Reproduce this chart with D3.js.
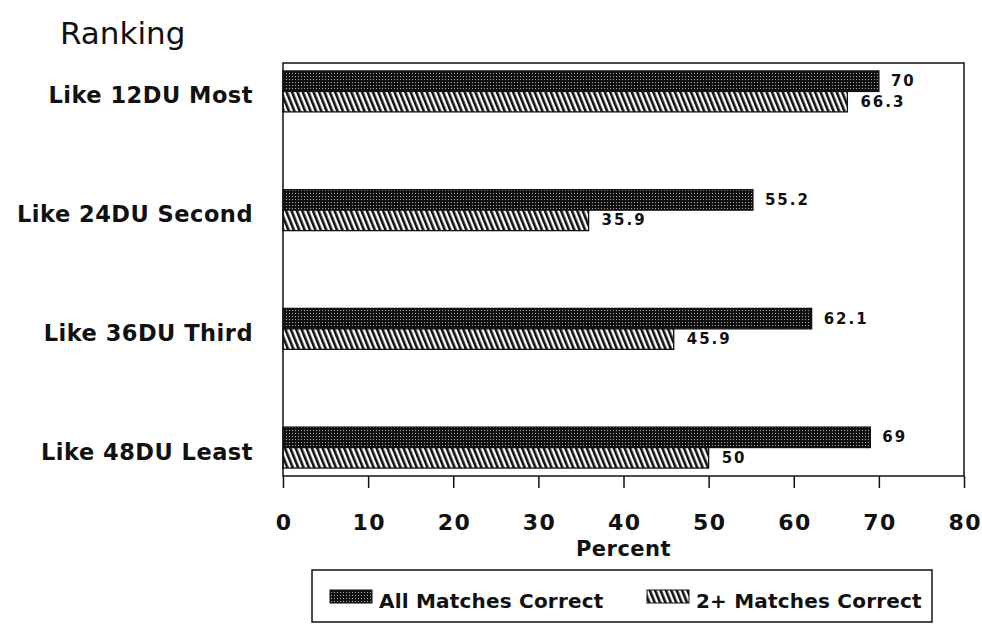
<!DOCTYPE html>
<html>
<head>
<meta charset="utf-8">
<script src="https://cdn.jsdelivr.net/npm/d3@7"></script>
<style>
  html, body { margin: 0; padding: 0; background: #fff; }
  svg { display: block; }
  text { fill: #111; }
</style>
</head>
<body>
<svg id="chart" width="982" height="627"></svg>
<script>
// ---- data ----
const categories = ["Like 12DU Most", "Like 24DU Second", "Like 36DU Third", "Like 48DU Least"];
const seriesNames = ["All Matches Correct", "2+ Matches Correct"];
const allMatches = [70, 55.2, 62.1, 69];
const twoPlusMatches = [66.3, 35.9, 45.9, 50];
const valueLabels = [["70", "55.2", "62.1", "69"], ["66.3", "35.9", "45.9", "50"]];
const xTicks = [0, 10, 20, 30, 40, 50, 60, 70, 80];
const titleText = "Ranking";
const xAxisTitle = "Percent";

const seriesValues = [allMatches, twoPlusMatches];

// ---- layout ----
const svg = d3.select("#chart");
const L = 283, R = 964, T = 63, B = 476;
const FONT = "'DejaVu Sans', 'Liberation Sans', sans-serif";

const x = d3.scaleLinear().domain([0, 80]).range([L, R]);
const y = d3.scaleBand().domain(categories).range([T, B]).paddingInner(0.655).paddingOuter(0.067);
const ySub = d3.scaleBand().domain(seriesNames).range([0, y.bandwidth()]);

// ---- patterns ----
const defs = svg.append("defs");
const dots = defs.append("pattern").attr("id", "dots").attr("patternUnits", "userSpaceOnUse")
  .attr("width", 3).attr("height", 3);
dots.append("rect").attr("width", 3).attr("height", 3).attr("fill", "#111");
dots.append("rect").attr("x", 1).attr("y", 1).attr("width", 1).attr("height", 1).attr("fill", "#aaa");

const hatch = defs.append("pattern").attr("id", "hatch").attr("patternUnits", "userSpaceOnUse")
  .attr("width", 5).attr("height", 10).attr("patternTransform", "rotate(-22)");
hatch.append("rect").attr("width", 5).attr("height", 10).attr("fill", "#fff");
hatch.append("rect").attr("x", 0).attr("y", 0).attr("width", 2.6).attr("height", 10).attr("fill", "#111");

const fills = ["url(#dots)", "url(#hatch)"];

// ---- title ----
svg.append("text").attr("x", 60).attr("y", 44)
  .style("font-family", FONT).style("font-size", "31px")
  .text(titleText);

// ---- bars ----
seriesNames.forEach((s, si) => {
  const g = svg.append("g");
  g.selectAll("rect").data(categories).join("rect")
    .attr("x", x(0))
    .attr("y", c => y(c) + ySub(s))
    .attr("width", (c, i) => x(seriesValues[si][i]) - x(0))
    .attr("height", ySub.bandwidth())
    .attr("fill", fills[si])
    .attr("stroke", "#111").attr("stroke-width", 1.3);
  g.selectAll("text").data(categories).join("text")
    .attr("x", (c, i) => x(seriesValues[si][i]) + (si === 0 ? 12 : 13))
    .attr("y", c => y(c) + ySub(s) + ySub.bandwidth() / 2)
    .attr("dominant-baseline", "central")
    .style("font-family", FONT).style("font-size", "15px").style("font-weight", "bold")
    .style("letter-spacing", "2px")
    .text((c, i) => valueLabels[si][i]);
});

// ---- frame ----
svg.append("rect").attr("x", L).attr("y", T).attr("width", R - L).attr("height", B - T)
  .attr("fill", "none").attr("stroke", "#111").attr("stroke-width", 1.5);

// ---- category labels ----
svg.append("g").selectAll("text").data(categories).join("text")
  .attr("x", 253)
  .attr("y", c => y(c) + y.bandwidth() / 2 + 12)
  .attr("text-anchor", "end")
  .style("font-family", FONT).style("font-size", "22.5px").style("font-weight", "bold")
  .style("letter-spacing", "0.5px")
  .text(c => c);

// ---- x axis ----
const xAxis = d3.axisBottom(x).tickValues(xTicks).tickSize(12).tickSizeOuter(0).tickPadding(26)
  .tickFormat(d3.format("d"));
const ax = svg.append("g").attr("transform", `translate(0,${B})`).call(xAxis);
ax.select(".domain").remove();
ax.selectAll(".tick line").attr("stroke", "#111").attr("stroke-width", 1.5);
ax.selectAll(".tick text")
  .attr("fill", "#111")
  .attr("dx", "0.75px")
  .style("font-family", FONT).style("font-size", "22px").style("font-weight", "bold")
  .style("letter-spacing", "1.5px");

svg.append("text").attr("x", (L + R) / 2).attr("y", 556).attr("text-anchor", "middle")
  .style("font-family", FONT).style("font-size", "21px").style("font-weight", "bold")
  .style("letter-spacing", "0.5px")
  .text(xAxisTitle);

// ---- legend ----
const leg = svg.append("g");
leg.append("rect").attr("x", 312).attr("y", 570).attr("width", 620).attr("height", 52)
  .attr("fill", "#fff").attr("stroke", "#111").attr("stroke-width", 1.5);
const legX = [330, 647];
seriesNames.forEach((s, si) => {
  leg.append("rect").attr("x", legX[si]).attr("y", 590).attr("width", 42).attr("height", 13)
    .attr("fill", fills[si]).attr("stroke", "#111").attr("stroke-width", 1);
  leg.append("text").attr("x", legX[si] + 49).attr("y", 608)
    .style("font-family", FONT).style("font-size", "20px").style("font-weight", "bold")
    .style("letter-spacing", "0.2px")
    .text(s);
});
</script>
</body>
</html>
